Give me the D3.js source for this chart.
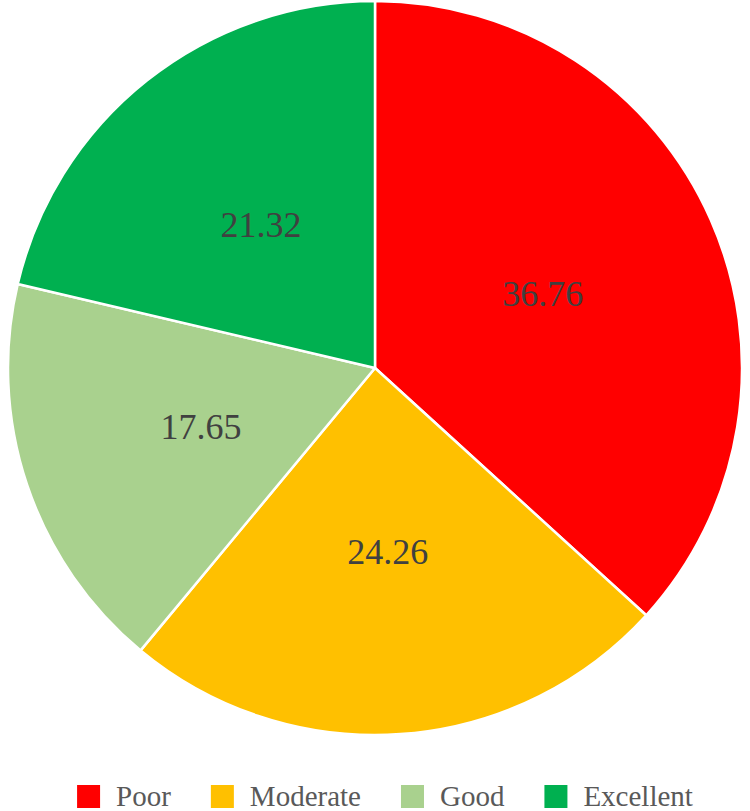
<!DOCTYPE html>
<html>
<head>
<meta charset="utf-8">
<script src="https://cdn.jsdelivr.net/npm/d3@7"></script>
<style>
  body { margin: 0; background: #fff; }
  svg { display: block; }
  text { font-family: 'Liberation Serif', 'Times New Roman', Times, 'DejaVu Serif', serif; }
</style>
</head>
<body>
<svg id="chart"></svg>
<script>
const width = 750;
const height = 811;

const categories = ['Poor', 'Moderate', 'Good', 'Excellent'];
const values = [36.76, 24.26, 17.65, 21.32];
const colors = ['#FF0000', '#FFC000', '#A9D18E', '#00B050'];

const cx = 375, cy = 368, radius = 367;
const fontFamily = "'Liberation Serif', 'Times New Roman', Times, 'DejaVu Serif', serif";

const svg = d3.select('#chart')
    .attr('width', width)
    .attr('height', height);

const color = d3.scaleOrdinal().domain(categories).range(colors);

const pie = d3.pie().sort(null).value(d => d.value);
const arc = d3.arc().innerRadius(0).outerRadius(radius);

const data = categories.map((c, i) => ({ name: c, value: values[i] }));

const g = svg.append('g').attr('transform', `translate(${cx}, ${cy})`);

const slices = pie(data);

g.selectAll('path')
    .data(slices)
    .enter()
    .append('path')
    .attr('d', arc)
    .attr('fill', d => color(d.data.name))
    .attr('stroke', '#fff')
    .attr('stroke-width', 2.5)
    .attr('stroke-linejoin', 'round');

g.selectAll('text.label')
    .data(slices)
    .enter()
    .append('text')
    .attr('class', 'label')
    .attr('transform', d => `translate(${arc.centroid(d)})`)
    .attr('text-anchor', 'middle')
    .attr('dy', '0.35em')
    .attr('font-family', fontFamily)
    .attr('font-size', 36)
    .attr('fill', '#404040')
    .text(d => d.data.value.toFixed(2));

// legend
const fontSize = 29;
const sq = 23, sqGap = 16, itemGap = 40;
const legendY = 806;

const ctx = document.createElement('canvas').getContext('2d');
ctx.font = `${fontSize}px ${fontFamily}`;
const widths = categories.map(c => ctx.measureText(c).width);
const total = d3.sum(widths) + categories.length * (sq + sqGap) + (categories.length - 1) * itemGap;

let lx = 385 - total / 2;
const legend = svg.append('g');
categories.forEach((c, i) => {
    legend.append('rect')
        .attr('x', lx)
        .attr('y', legendY - 21)
        .attr('width', sq)
        .attr('height', sq)
        .attr('fill', color(c));
    legend.append('text')
        .attr('x', lx + sq + sqGap)
        .attr('y', legendY)
        .attr('font-family', fontFamily)
        .attr('font-size', fontSize)
        .attr('fill', '#595959')
        .text(c);
    lx += sq + sqGap + widths[i] + itemGap;
});
</script>
</body>
</html>
